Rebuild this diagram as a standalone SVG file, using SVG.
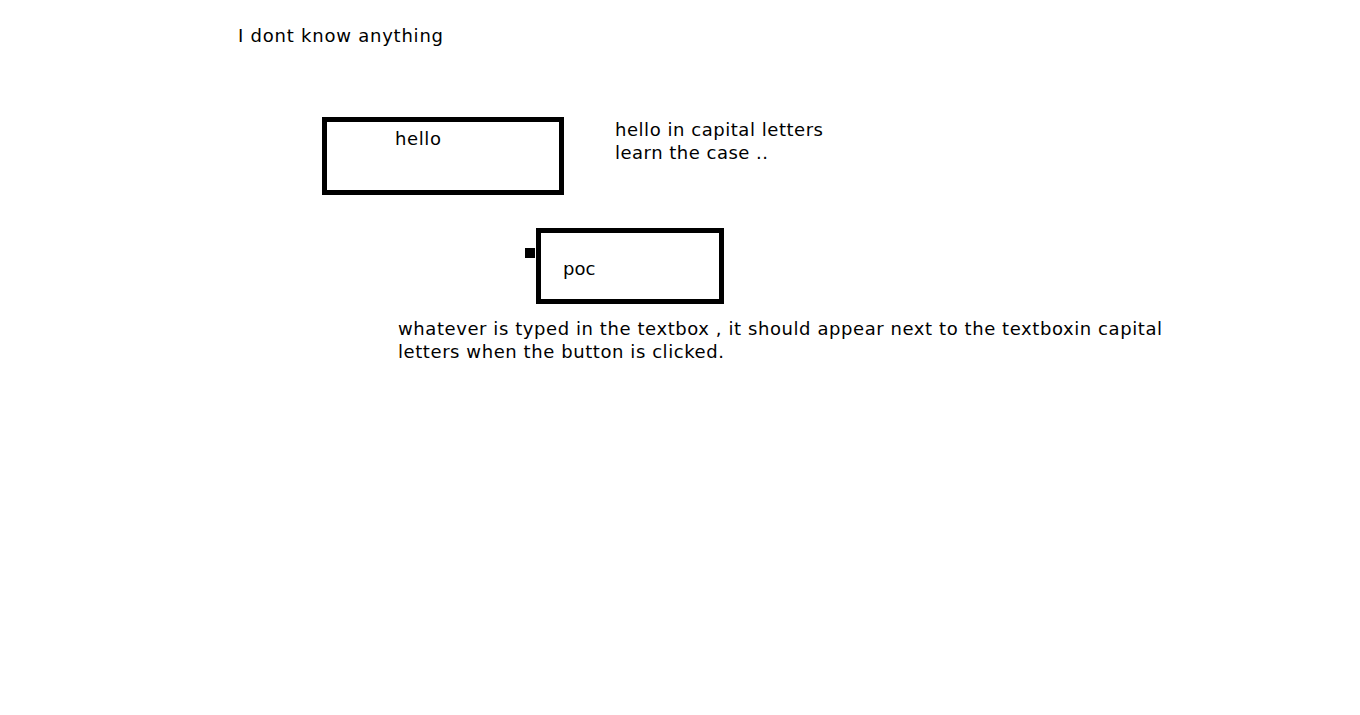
<svg xmlns="http://www.w3.org/2000/svg" width="1360" height="715" viewBox="0 0 1360 715">
<style>
text{font-family:"DejaVu Sans",Verdana,sans-serif;font-size:18px;fill:#000}
.box{fill:#fff;stroke:#000;stroke-width:5}
</style>
<rect width="1360" height="715" fill="#fff"/>
<g id="title"><text x="238" y="42" textLength="205" lengthAdjust="spacing">I dont know anything</text></g>
<g id="hello-box"><rect class="box" x="324.5" y="119.5" width="237" height="73"/><text x="395" y="145" textLength="46" lengthAdjust="spacing">hello</text></g>
<g id="hello-note"><text x="615" y="136" textLength="208" lengthAdjust="spacing">hello in capital letters</text><text x="615" y="159" textLength="153" lengthAdjust="spacing">learn the case ..</text></g>
<g id="poc-box"><rect class="box" x="538.5" y="230.5" width="183" height="71"/><rect x="525" y="248" width="10" height="10" fill="#000"/><text x="563" y="275">poc</text></g>
<g id="description"><text x="398" y="335" textLength="764" lengthAdjust="spacing">whatever is typed in the textbox , it should appear next to the textboxin capital</text><text x="398" y="358" textLength="326" lengthAdjust="spacing">letters when the button is clicked.</text></g>
<g id="connectors"/>
</svg>
